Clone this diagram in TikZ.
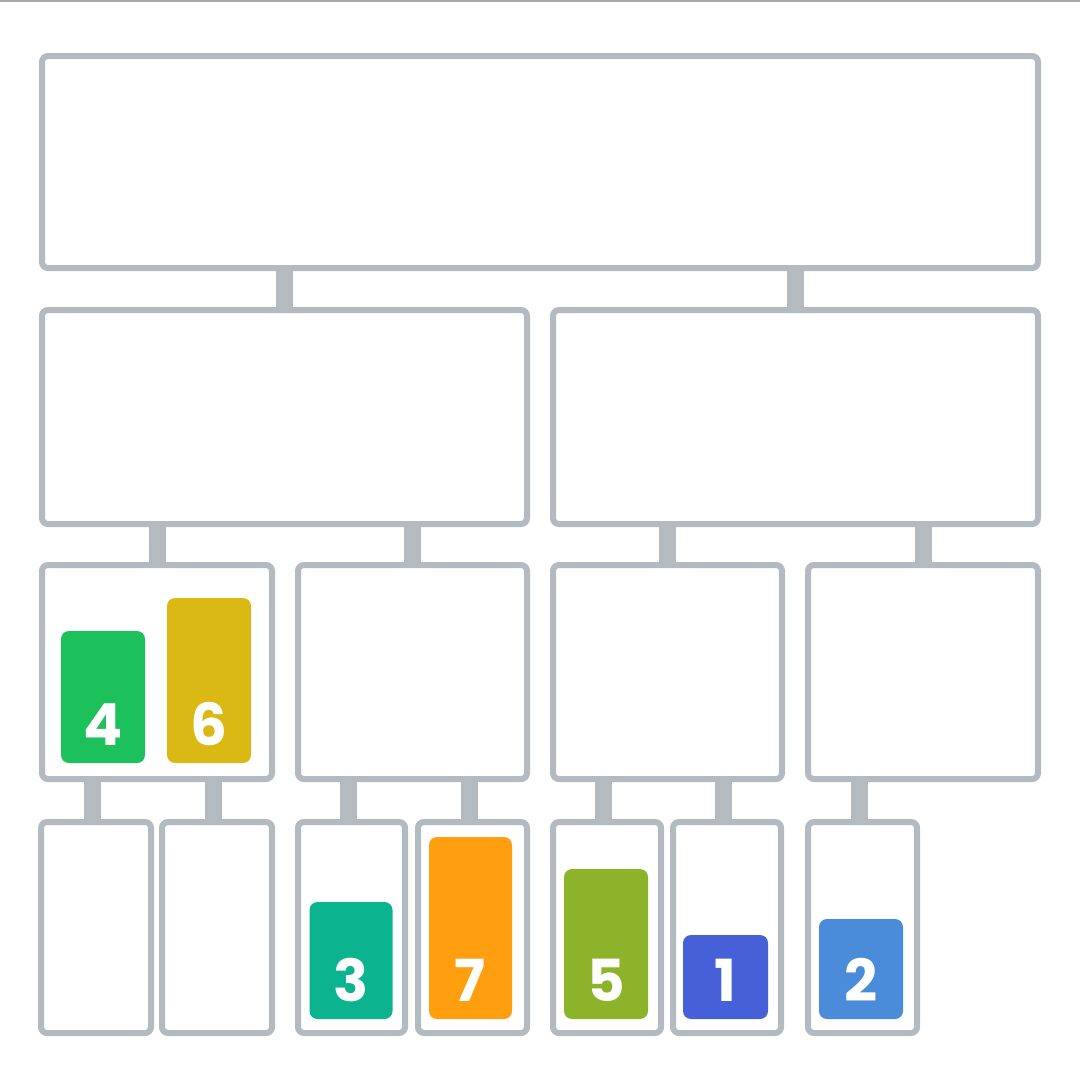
\documentclass[tikz,border=0pt]{standalone}
\usepackage{fontspec}
\setmainfont{Poppins}
\definecolor{frame}{HTML}{B3BBC0}
\definecolor{topline}{HTML}{A9A9A9}
\definecolor{cgreen}{HTML}{1CC15C}
\definecolor{cyellow}{HTML}{DBB914}
\definecolor{cteal}{HTML}{0BB38F}
\definecolor{corange}{HTML}{FF9F0F}
\definecolor{colive}{HTML}{8DB32A}
\definecolor{cblue}{HTML}{4661D8}
\definecolor{clblue}{HTML}{4A8CD9}
\tikzset{
  box/.style={draw=frame, line width=6pt, fill=white, rounded corners=6pt, inner sep=0pt, outer sep=0pt},
  conn/.style={draw=frame, line width=17pt},
  bar/.style={rounded corners=8pt, inner sep=0pt, outer sep=0pt, anchor=south, minimum width=84pt},
  num/.style={anchor=base, inner sep=0pt, text=white, font=\bfseries\fontsize{58}{60}\selectfont},
}
\begin{document}
\begin{tikzpicture}[x=1pt,y=-1pt]
\useasboundingbox (0,0) rectangle (1080,1080);
\fill[white] (0,0) rectangle (1080,1080);
\fill[topline] (0,0) rectangle (1080,2);
% level 1
\node[box, minimum width=996pt, minimum height=212pt] (top) at (540,162) {};
% level 2
\node[box, minimum width=485pt, minimum height=214pt] (l2a) at (284.5,417) {};
\node[box, minimum width=485pt, minimum height=214pt] (l2b) at (795.5,417) {};
% level 3
\node[box, minimum width=230pt, minimum height=214pt] (l3a) at (157,672) {};
\node[box, minimum width=229pt, minimum height=214pt] (l3b) at (412.5,672) {};
\node[box, minimum width=229pt, minimum height=214pt] (l3c) at (667.5,672) {};
\node[box, minimum width=230pt, minimum height=214pt] (l3d) at (923,672) {};
% level 4
\node[box, minimum width=110pt, minimum height=211pt] (l4a) at (96,927.5) {};
\node[box, minimum width=110pt, minimum height=211pt] (l4b) at (217,927.5) {};
\node[box, minimum width=107pt, minimum height=211pt] (l4c) at (351.5,927.5) {};
\node[box, minimum width=109pt, minimum height=211pt] (l4d) at (472.5,927.5) {};
\node[box, minimum width=108pt, minimum height=211pt] (l4e) at (607,927.5) {};
\node[box, minimum width=108pt, minimum height=211pt] (l4f) at (727,927.5) {};
\node[box, minimum width=109pt, minimum height=211pt] (l4g) at (862.5,927.5) {};
% connectors
\foreach \p/\c in {top/l2a, top/l2b, l2a/l3a, l2a/l3b, l2b/l3c, l2b/l3d}
  \draw[conn] (\p.south -| \c.north) -- (\c.north);
\foreach \p/\c in {l3a/l4a, l3a/l4b, l3b/l4c, l3b/l4d, l3c/l4e, l3c/l4f, l3d/l4g}
  \draw[conn] ([xshift=-3.5pt]\p.south -| \c.north) -- ([xshift=-3.5pt]\c.north);
% bars
\node[bar, fill=cgreen, minimum height=132pt] (b4) at (103,763) {};
\node[bar, fill=cyellow, minimum height=165pt] (b6) at (209,763) {};
\node[bar, fill=cteal, minimum height=117pt, minimum width=83pt] (b3) at (351,1019) {};
\node[bar, fill=corange, minimum height=182pt, minimum width=83pt] (b7) at (470.5,1019) {};
\node[bar, fill=colive, minimum height=150pt] (b5) at (606,1019) {};
\node[bar, fill=cblue, minimum height=84pt, minimum width=85pt] (b1) at (725.5,1019) {};
\node[bar, fill=clblue, minimum height=100pt] (b2) at (861,1019) {};
% numbers
\node[num] (n4) at ([yshift=18pt]b4.south) {4};
\node[num] (n6) at ([yshift=18pt]b6.south) {6};
\node[num] (n3) at ([yshift=18pt]b3.south) {3};
\node[num] (n7) at ([yshift=18pt]b7.south) {7};
\node[num] (n5) at ([yshift=18pt]b5.south) {5};
\node[num] (n1) at ([yshift=18pt]b1.south) {1};
\node[num] (n2) at ([yshift=18pt]b2.south) {2};
\end{tikzpicture}
\end{document}
